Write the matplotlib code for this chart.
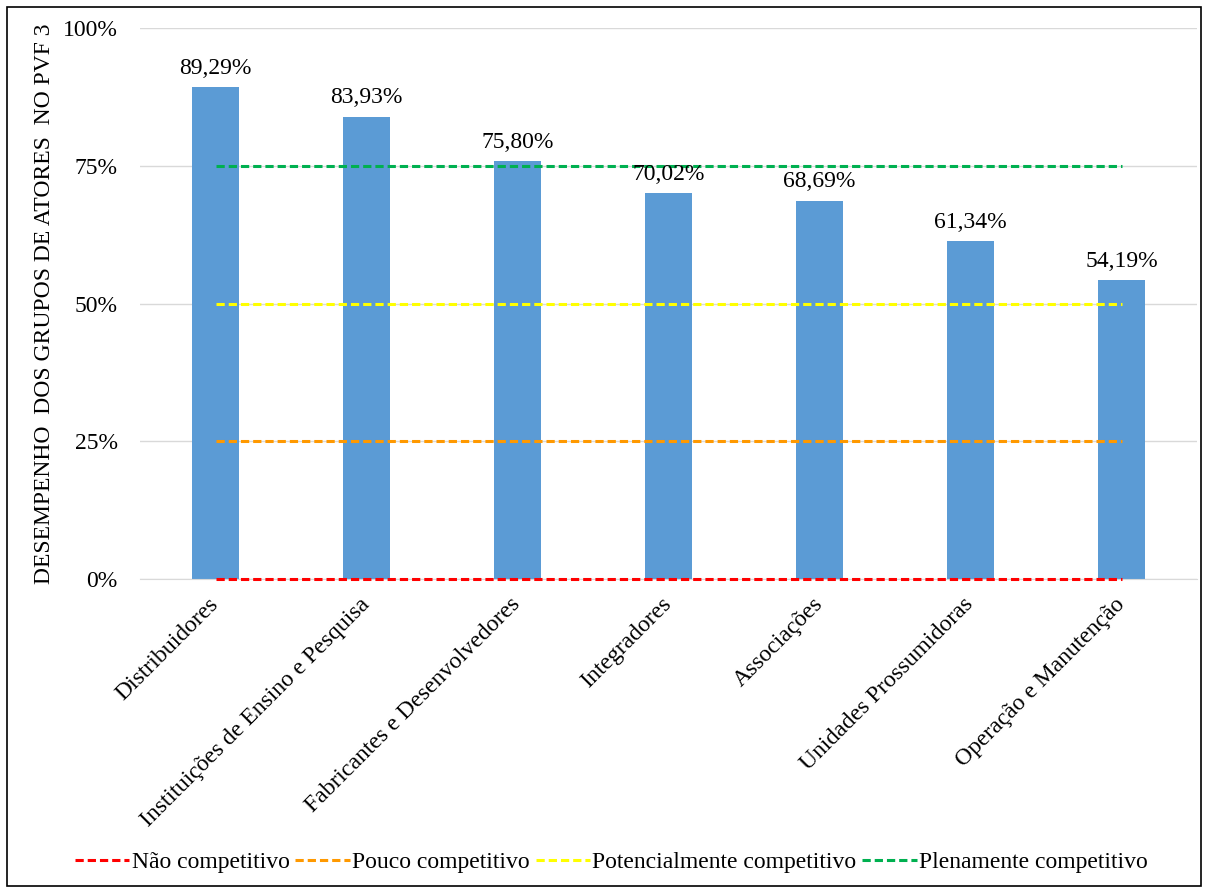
import matplotlib.pyplot as plt
from matplotlib.patches import Rectangle
from matplotlib.ticker import FuncFormatter
import numpy as np

plt.rcParams['font.family'] = ['Liberation Serif', 'DejaVu Serif']

categories = ['Distribuidores', 'Instituições de Ensino e Pesquisa',
              'Fabricantes e Desenvolvedores', 'Integradores', 'Associações',
              'Unidades Prossumidoras', 'Operação e Manutenção']
values = [89.29, 83.93, 75.80, 70.02, 68.69, 61.34, 54.19]

levels = ['Não competitivo', 'Pouco competitivo',
          'Potencialmente competitivo', 'Plenamente competitivo']
level_values = [0, 25, 50, 75]
level_colours = ['#FF0000', '#FF9900', '#FFFF00', '#00B050']


def pct(v):
    return '{:.2f}%'.format(v).replace('.', ',')


fig = plt.figure(figsize=(12.08, 8.91), dpi=100)
ax = fig.add_axes([0.1159, 0.350, 0.875, 0.6186])

x = np.arange(len(categories))
ax.bar(x, values, width=0.31, color='#5B9BD5', zorder=2)
for xi, v in zip(x, values):
    ax.annotate(pct(v), (xi, v), xytext=(0, 6), textcoords='offset points',
                ha='center', va='bottom', fontsize=17, zorder=4)

handles = []
for lv, col, name in zip(level_values, level_colours, levels):
    h, = ax.plot(x, [lv] * len(x), color=col, lw=2.2, ls=(0, (2.7, 1.3)),
                 label=name, zorder=3, clip_on=False)
    handles.append(h)

ax.set_xlim(-0.5, len(categories) - 0.5)
ax.set_ylim(0, 100)
ax.set_yticks([0, 25, 50, 75, 100])
ax.yaxis.set_major_formatter(FuncFormatter(lambda v, p: '{:.0f}%'.format(v)))
ax.grid(axis='y', color='#D9D9D9', lw=1, zorder=0)
for s in ['top', 'right', 'left']:
    ax.spines[s].set_visible(False)
ax.spines['bottom'].set_color('#D9D9D9')
ax.tick_params(axis='both', length=0, labelsize=17)
ax.tick_params(axis='y', pad=16)
ax.set_xticks(x)
ax.set_xticklabels(categories, rotation=45, ha='right', va='center',
                   rotation_mode='anchor')
ax.tick_params(axis='x', pad=16)
ax.set_ylabel('DESEMPENHO  DOS GRUPOS DE ATORES  NO PVF 3', fontsize=17,
              labelpad=6)

fig.legend(handles=handles, loc='center', bbox_to_anchor=(0.506, 0.032),
           ncol=4, frameon=False, fontsize=17, handlelength=2.3,
           handletextpad=0.1, columnspacing=0.25)

fig.patches.append(Rectangle((0.006, 0.006), 0.988, 0.986,
                             transform=fig.transFigure, fill=False,
                             edgecolor='black', lw=1.2))

fig.savefig('out.png', dpi=100)
